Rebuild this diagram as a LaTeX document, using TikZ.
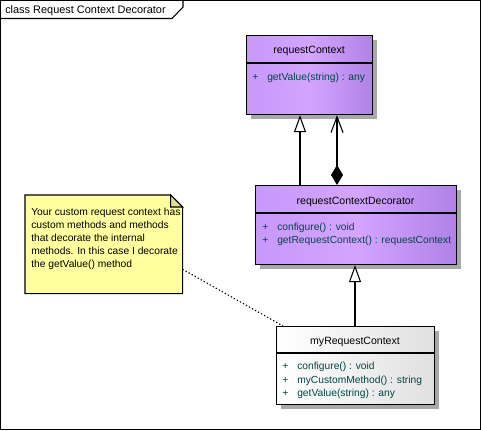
\documentclass[tikz,border=0pt]{standalone}
\usepackage{fontspec}
\setmainfont{Liberation Sans}
\usetikzlibrary{arrows.meta,shadows}
\definecolor{purpL}{RGB}{200,152,250}
\definecolor{purpM}{RGB}{212,164,255}
\definecolor{purpR}{RGB}{176,130,230}
\definecolor{methc}{RGB}{0,70,70}
\definecolor{notey}{RGB}{255,255,160}
\definecolor{notef}{RGB}{224,224,140}
\definecolor{shadowc}{RGB}{168,168,168}
\tikzset{
  classbox/.style={draw=black, line width=0.8pt, anchor=north west, inner sep=0pt,
    drop shadow={shadow xshift=3pt, shadow yshift=-3pt, fill=shadowc, opacity=1}},
  purplebox/.style={classbox, left color=purpL, right color=purpR, middle color=purpM},
  whitebox/.style={classbox, left color=white, right color=black!12},
  ctitle/.style={font=\fontsize{7.9}{9}\selectfont, text=black, anchor=base},
  meth/.style={font=\fontsize{7.7}{9}\selectfont, text=methc, anchor=base west, inner sep=0pt},
  sep/.style={line width=0.8pt},
  gen/.style={line width=0.8pt, -{Triangle[open, length=12.75pt, width=9pt, line width=0.8pt]}},
  comp/.style={line width=0.8pt, {Diamond[length=15pt, width=9pt]}-{Straight Barb[length=12pt, width=9pt, line width=0.8pt]}},
  notelink/.style={line width=0.8pt, dash pattern=on 1pt off 1.6pt},
}
\begin{document}
\begin{tikzpicture}[x=0.75pt, y=-0.75pt]
\useasboundingbox (0,0) rectangle (481,430);
\fill[white] (0,0) rectangle (481,430);
% frame
\draw[line width=0.8pt] (0.5,0.5) rectangle (480.5,429.5);
\draw[line width=0.8pt] (0.5,18.5) -- (172,18.5) -- (183,7) -- (183,0.5);
\node[font=\fontsize{8.2}{9}\selectfont, anchor=base west, inner sep=0pt] (ftitle) at (5,13) {class Request Context Decorator};

% requestContext
\node[purplebox, minimum width=94.5pt, minimum height=59.25pt] (rc) at (246,35) {};
\draw[sep] (246,63) -- (372,63);
\node[ctitle] (rct) at (309,53) {requestContext};
\node[meth] (rcp1) at (252,80) {+};
\node[meth] (rcm1) at (267,80) {getValue(string) : any};

% requestContextDecorator
\node[purplebox, minimum width=150.75pt, minimum height=59.25pt] (dec) at (255,185) {};
\draw[sep] (255,213) -- (456,213);
\node[ctitle] (dect) at (355.5,204) {requestContextDecorator};
\node[meth] (decp1) at (262,230) {+};
\node[meth] (decm1) at (277,230) {configure() : void};
\node[meth] (decp2) at (262,243) {+};
\node[meth] (decm2) at (277,243) {getRequestContext() : requestContext};

% myRequestContext
\node[whitebox, minimum width=118.5pt, minimum height=58.5pt] (my) at (276,326) {};
\draw[sep] (276,353) -- (434,353);
\node[ctitle] (myt) at (355,344) {myRequestContext};
\node[meth] (myp1) at (282,369) {+};
\node[meth] (mym1) at (297,369) {configure() : void};
\node[meth] (myp2) at (282,383) {+};
\node[meth] (mym2) at (297,383) {myCustomMethod() : string};
\node[meth] (myp3) at (282,396) {+};
\node[meth] (mym3) at (297,396) {getValue(string) : any};

% note
\node[anchor=north west, minimum width=117.75pt, minimum height=73.5pt, inner sep=0pt] (note) at (25,195) {};
\filldraw[fill=notey, draw=black, line width=0.8pt] (note.north west) -- ([xshift=-9pt]note.north east) -- ([yshift=-9pt]note.north east) -- (note.south east) -- (note.south west) -- cycle;
\filldraw[fill=notef, draw=black, line width=0.8pt] ([xshift=-9pt]note.north east) -- ([yshift=-9pt]note.north east) -- ([xshift=-9pt,yshift=-9pt]note.north east) -- cycle;
\node[anchor=north west, inner sep=0pt, align=left, font=\fontsize{7.7}{9.75}\selectfont] (notetext) at (31,208) {Your custom request context has\\custom methods and methods\\that decorate the internal\\methods. In this case I decorate\\the getValue() method};

% connectors
\draw[gen] ([xshift=33.75pt]dec.north west) -- ([xshift=33.75pt]dec.north west |- rc.south);
\draw[comp] ([xshift=61.5pt]dec.north west) -- ([xshift=61.5pt]dec.north west |- rc.south);
\draw[gen] ([xshift=59.25pt]my.north west) -- ([xshift=59.25pt]my.north west |- dec.south);
\draw[notelink] ([yshift=-18.75pt]note.east) -- ([xshift=5.25pt]my.north west);
\end{tikzpicture}
\end{document}
